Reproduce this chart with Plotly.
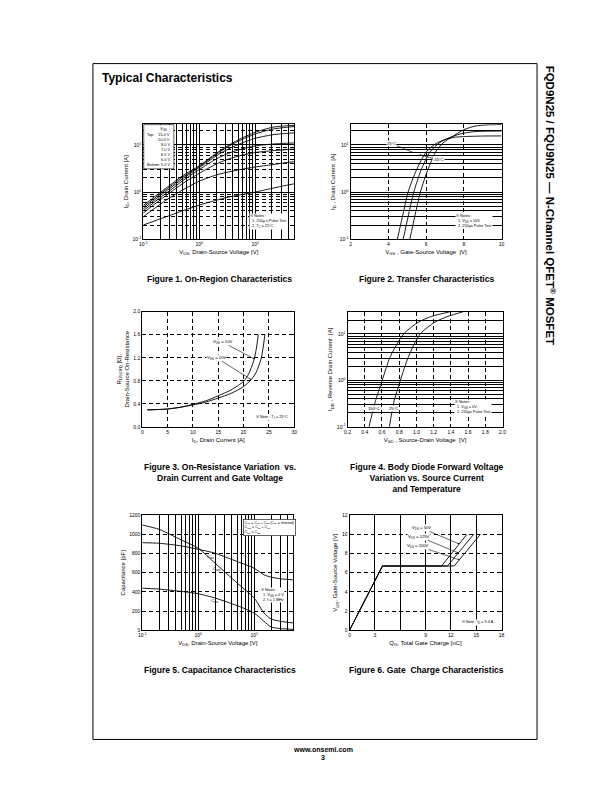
import plotly.graph_objects as go

W, H = 612, 792
FONT = "Liberation Sans, Arial, Helvetica, sans-serif"

# ---------------- Figure 1 : On-Region Characteristics ----------------
f1_vds = [0.1, 0.2, 0.3, 0.5, 1, 2, 3, 5, 10, 20, 30, 50]
f1_id_15v = [0.52, 0.98, 1.4, 2.2, 3.6, 6.6, 9.0, 12.8, 18.5, 23.5, 25, 26]
f1_id_10v = [0.48, 0.91, 1.3, 2.05, 3.45, 6.3, 8.6, 12.0, 17.0, 21.5, 23, 24.5]
f1_id_8v = [0.44, 0.84, 1.2, 1.9, 3.3, 5.8, 7.7, 10.2, 13.8, 16.3, 17.2, 18]
f1_id_7v = [0.40, 0.76, 1.08, 1.72, 3.0, 5.0, 6.3, 7.8, 9.5, 10.4, 10.7, 11]
f1_id_65v = [0.36, 0.68, 0.97, 1.5, 2.5, 3.9, 4.8, 5.8, 6.9, 7.5, 7.8, 8.2]
f1_id_6v = [0.30, 0.55, 0.76, 1.1, 1.7, 2.3, 2.6, 2.95, 3.4, 3.8, 4.1, 4.4]
f1_id_55v = [0.20, 0.27, 0.32, 0.40, 0.53, 0.67, 0.76, 0.86, 1.0, 1.2, 1.33, 1.5]
f1_legend_values = ["15.0 V", "10.0 V", "8.0 V", "7.0 V", "6.5 V", "6.0 V", "5.5 V"]
f1_legend_tags = ["Top :", "", "", "", "", "", "Bottom :"]

# ---------------- Figure 2 : Transfer Characteristics ----------------
f2_vgs_150 = [4.48, 4.75, 5.05, 5.5, 6.0, 6.5, 7.0, 7.5, 8.0, 9.0, 10.0]
f2_id_150 = [0.1, 0.3, 1.0, 3.0, 7.0, 10.5, 13.0, 14.5, 15.0, 15.4, 15.5]
f2_vgs_25 = [4.79, 5.05, 5.35, 5.75, 6.2, 6.7, 7.2, 7.8, 8.5, 9.2, 10.0]
f2_id_25 = [0.1, 0.3, 1.0, 3.0, 7.0, 11.0, 14.0, 17.0, 19.0, 19.5, 19.7]
f2_vgs_m55 = [5.14, 5.4, 5.7, 6.1, 6.5, 6.9, 7.4, 8.0, 8.6, 9.2, 10.0]
f2_id_m55 = [0.1, 0.3, 1.0, 3.0, 7.0, 11.0, 15.0, 21.0, 25.0, 26.5, 27.0]

# ---------------- Figure 3 : On-Resistance ----------------
f3_id_10v = [1, 3, 5, 7.5, 10, 12.5, 15, 17.5, 20, 21, 22, 22.5, 22.9]
f3_r_10v = [0.30, 0.30, 0.31, 0.34, 0.39, 0.45, 0.54, 0.64, 0.79, 0.92, 1.15, 1.35, 1.6]
f3_id_20v = [1, 3, 5, 7.5, 10, 12.5, 15, 17.5, 20, 21.5, 22.5, 23.5, 24.2]
f3_r_20v = [0.29, 0.30, 0.31, 0.34, 0.38, 0.43, 0.50, 0.58, 0.70, 0.82, 0.95, 1.2, 1.6]

# ---------------- Figure 4 : Body Diode ----------------
f4_vsd_150 = [0.449, 0.518, 0.602, 0.698, 0.851, 1.023, 1.177, 1.387]
f4_idr_150 = [0.1, 0.33, 1.0, 3.3, 10.0, 18.0, 24.0, 30.0]
f4_vsd_25 = [0.686, 0.736, 0.813, 0.909, 1.043, 1.215, 1.368, 1.54]
f4_idr_25 = [0.1, 0.33, 1.0, 3.3, 10.0, 18.0, 24.0, 30.0]

# ---------------- Figure 5 : Capacitance ----------------
f5_vds = [0.1, 0.2, 0.5, 1, 2, 5, 10, 15, 20, 30, 50]
f5_ciss = [913, 907, 879, 844, 803, 716, 647, 578, 554, 536, 526]
f5_coss = [1097, 1052, 941, 855, 699, 491, 336, 180, 118, 93, 76]
f5_crss = [439, 429, 405, 381, 336, 256, 180, 93, 35, 17, 10]

# ---------------- Figure 6 : Gate Charge ----------------
f6_qg_50v = [0, 3.9, 10.9, 13.9]
f6_qg_125v = [0, 3.9, 11.6, 14.7]
f6_qg_200v = [0, 3.9, 12.4, 15.5]
f6_vgs = [0, 6.7, 6.7, 10.0]
f6_xticks = [0, 3, 6, 9, 12, 15, 18]
f6_xtext = ["0", "3", "", "9", "12", "15", "18"]

# ---------------------------------------------------------------------
fig = go.Figure()


def px(x):
    return x / W


def py(y):
    return 1 - y / H


def curve(x, y, n, smooth=True):
    fig.add_trace(go.Scatter(
        x=x, y=y, mode="lines",
        line=dict(color="black", width=0.9,
                  shape="spline" if smooth else "linear", smoothing=0.7),
        xaxis="x" if n == 1 else f"x{n}", yaxis="y" if n == 1 else f"y{n}",
        showlegend=False, hoverinfo="skip"))


for ys in [f1_id_15v, f1_id_10v, f1_id_8v, f1_id_7v, f1_id_65v, f1_id_6v, f1_id_55v]:
    curve(f1_vds, ys, 1)
curve(f2_vgs_150, f2_id_150, 2)
curve(f2_vgs_25, f2_id_25, 2)
curve(f2_vgs_m55, f2_id_m55, 2)
curve(f3_id_10v, f3_r_10v, 3)
curve(f3_id_20v, f3_r_20v, 3)
curve(f4_vsd_150, f4_idr_150, 4)
curve(f4_vsd_25, f4_idr_25, 4)
curve(f5_vds, f5_ciss, 5)
curve(f5_vds, f5_coss, 5)
curve(f5_vds, f5_crss, 5)
curve(f6_qg_50v, f6_vgs, 6, smooth=False)
curve(f6_qg_125v, f6_vgs, 6, smooth=False)
curve(f6_qg_200v, f6_vgs, 6, smooth=False)

log_minor = [m * 10.0 ** e for e in range(-1, 2) for m in range(2, 10)]
log_ticks = [0.1, 1, 10]
log_text = ["10<sup>-1</sup>", "10<sup>0</sup>", "10<sup>1</sup>"]


def axis(dom, anchor, title, standoff=3, typ="linear", rng=None, dtick=None,
         tickvals=None, ticktext=None, griddash="solid", minor=None,
         minordash="solid", tickformat=None):
    d = dict(domain=dom, anchor=anchor, type=typ, range=rng,
             showline=True, linecolor="black", linewidth=1, mirror="ticks",
             ticks="inside", ticklen=3, tickwidth=0.8, tickcolor="black",
             showgrid=True, gridcolor="black", gridwidth=0.7, griddash=griddash,
             zeroline=False, fixedrange=True,
             tickfont=dict(family=FONT, size=5, color="black"),
             title=dict(text=title, font=dict(family=FONT, size=6, color="black"),
                        standoff=standoff))
    if dtick is not None:
        d["dtick"] = dtick
        d["tick0"] = rng[0]
    if tickvals is not None:
        d["tickmode"] = "array"
        d["tickvals"] = tickvals
        d["ticktext"] = ticktext
    if tickformat:
        d["tickformat"] = tickformat
    if minor is not None:
        d["minor"] = dict(tickmode="array", tickvals=minor, ticks="inside",
                          ticklen=2, tickcolor="black", showgrid=True,
                          gridcolor="black", gridwidth=0.5, griddash=minordash)
    return d


DASH = "4px,3px"
boxes = {
    1: (133, 286, 114, 230),
    2: (343, 496, 114, 230),
    3: (132, 286, 303, 419),
    4: (340, 497, 303, 419),
    5: (132, 285, 508, 624),
    6: (342, 496, 508, 624),
}


def xd(n):
    b = boxes[n]
    return [px(b[0]), px(b[1])]


def yd(n):
    b = boxes[n]
    return [py(b[3]), py(b[2])]


vds_title = "V<sub>DS</sub>, Drain-Source Voltage [V]"
layout = dict(
    xaxis=axis(xd(1), "y", vds_title, typ="log", rng=[-1, 1.699],
               tickvals=log_ticks, ticktext=log_text, minor=log_minor),
    yaxis=axis(yd(1), "x", "I<sub>D</sub>, Drain Current [A]", typ="log",
               rng=[-1, 1.44], tickvals=log_ticks, ticktext=log_text,
               minor=log_minor, minordash=DASH),
    xaxis2=axis(xd(2), "y2", "V<sub>GS</sub> , Gate-Source Voltage  [V]",
                rng=[2, 10], dtick=2, griddash=DASH),
    yaxis2=axis(yd(2), "x2", "I<sub>D</sub> , Drain Current  [A]", typ="log",
                rng=[-1, 1.44], tickvals=log_ticks, ticktext=log_text,
                minor=log_minor),
    xaxis3=axis(xd(3), "y3", "I<sub>D</sub>, Drain Current [A]", rng=[0, 30],
                dtick=5, griddash=DASH),
    yaxis3=axis(yd(3), "x3", "R<sub>DS(ON)</sub> [Ω],<br>Drain-Source On-Resistance",
                rng=[0, 2.0], dtick=0.4, griddash=DASH, tickformat=".1f"),
    xaxis4=axis(xd(4), "y4", "V<sub>SD</sub> , Source-Drain Voltage  [V]",
                rng=[0.2, 2.0], dtick=0.2, griddash=DASH, tickformat=".1f"),
    yaxis4=axis(yd(4), "x4", "I<sub>DR</sub> , Reverse Drain Current  [A]",
                typ="log", rng=[-1, 1.48], tickvals=log_ticks, ticktext=log_text,
                minor=log_minor),
    xaxis5=axis(xd(5), "y5", vds_title, typ="log", rng=[-1, 1.699],
                tickvals=log_ticks, ticktext=log_text, minor=log_minor),
    yaxis5=axis(yd(5), "x5", "Capacitance [pF]", rng=[0, 1200], dtick=200,
                griddash=DASH),
    xaxis6=axis(xd(6), "y6", "Q<sub>G</sub>, Total Gate Charge [nC]",
                rng=[0, 18], tickvals=f6_xticks, ticktext=f6_xtext),
    yaxis6=axis(yd(6), "x6", "V<sub>GS</sub>, Gate-Source Voltage [V]",
                rng=[0, 12], dtick=2, griddash=DASH),
)

ann = []
shapes = []


def text(x, y, t, size=4.2, bold=False, xanchor="center", yanchor="middle",
         align="center", bg=None, border=None, angle=0):
    a = dict(x=px(x), y=py(y), xref="paper", yref="paper", showarrow=False,
             text=f"<b>{t}</b>" if bold else t, xanchor=xanchor, yanchor=yanchor,
             align=align, textangle=angle, borderpad=0,
             font=dict(family=FONT, size=size, color="black"))
    if bg:
        a["bgcolor"] = bg
    if border:
        a["bordercolor"] = border
        a["borderwidth"] = 0.6
        a["borderpad"] = 1
    ann.append(a)


def arrow(n, x, y, axp, ayp, t, size=4.2):
    ann.append(dict(x=x, y=y, xref="x" if n == 1 else f"x{n}",
                    yref="y" if n == 1 else f"y{n}", text=t, showarrow=True,
                    ax=axp, ay=ayp, arrowhead=2, arrowsize=0.5, arrowwidth=0.6,
                    arrowcolor="black", bgcolor="white", borderpad=0,
                    font=dict(family=FONT, size=size, color="black")))


def rect(x0, y0, x1, y1, fill="white", line=0.6):
    shapes.append(dict(type="rect", xref="paper", yref="paper", x0=px(x0),
                       x1=px(x1), y0=py(y1), y1=py(y0), fillcolor=fill,
                       line=dict(color="black", width=line), layer="above"))


# page frame
shapes.append(dict(type="rect", xref="paper", yref="paper", x0=px(82), x1=px(532),
                   y0=py(734), y1=py(53), line=dict(color="black", width=1)))
text(90, 68, "Typical Characteristics", size=12, bold=True, xanchor="left")
text(546, 196, "FQD9N25 / FQU9N25 — N-Channel QFET<sup>®</sup> MOSFET", size=11.5,
     bold=True, angle=90)
text(315, 744, "www.onsemi.com", size=7, bold=True)
text(315, 752, "3", size=7, bold=True)

# Figure 1 legend box
rect(133.5, 114.5, 164, 159)
text(153, 118.5, "V<sub>GS</sub>", size=4.2)
for i, (tag, val) in enumerate(zip(f1_legend_tags, f1_legend_values)):
    yy = 124 + i * 5.1
    if tag:
        text(135.5, yy, tag, size=3.9, xanchor="left")
    text(161.5, yy, val, size=3.9, xanchor="right")
text(240, 212, "\u203b Notes :<br>  1. 250\u03bc s Pulse Test<br>  2. T<sub>C</sub> = 25\u00b0C",
     size=3.8, xanchor="left", align="left", bg="white")

# Figure 2 labels
arrow(2, 5.3, 1.8, -17, -7, "150\u00b0C")
arrow(2, 5.3, 0.84, -21, -9, "25\u00b0C")
arrow(2, 5.65, 0.79, 19, 5, "-55\u00b0C")
text(449, 212, "\u203b Notes :<br>  1. V<sub>DS</sub> = 50V<br>  2. 250\u03bcs Pulse Test",
     size=3.8, xanchor="left", align="left", bg="white")

# Figure 3 labels
arrow(3, 22.1, 1.18, -32, -17, "V<sub>GS</sub> = 10V")
arrow(3, 21.5, 0.82, -35, -22, "V<sub>GS</sub> = 20V")
text(246, 409.5, "\u203b Note : T<sub>J</sub> = 25\u00b0C", size=3.8, xanchor="left",
     bg="white")

# Figure 4 labels
text(367, 401, "150\u00b0C", size=4.2, bg="white")
text(387, 401, "25\u00b0C", size=4.2, bg="white")
text(448, 399, "\u203b Notes :<br>  1. V<sub>GS</sub> = 0V<br>  2. 250\u03bcs Pulse Test",
     size=3.8, xanchor="left", align="left", bg="white")

# Figure 5 labels
text(234, 520, "C<sub>iss</sub> = C<sub>gs</sub> + C<sub>gd</sub> (C<sub>ds</sub> = shorted)<br>"
     "C<sub>oss</sub> = C<sub>ds</sub> + C<sub>gd</sub><br>C<sub>rss</sub> = C<sub>gd</sub>",
     size=3.6, xanchor="left", align="left", bg="white", border="black")
text(201, 550, "C<sub>iss</sub>", size=4.2)
text(208, 562, "C<sub>oss</sub>", size=4.2)
text(205, 595, "C<sub>rss</sub>", size=4.2)
text(251, 588, "\u203b Notes :<br>  1. V<sub>GS</sub> = 0 V<br>  2. f = 1 MHz",
     size=3.8, xanchor="left", align="left", bg="white")

# Figure 6 labels
arrow(6, 12.99, 9.0, -38, -16, "V<sub>DS</sub> = 50V")
arrow(6, 12.89, 8.07, -39, -16, "V<sub>DS</sub> = 125V")
arrow(6, 13.0, 7.34, -41, -14, "V<sub>DS</sub> = 200V")
text(455, 616, "\u203b Note : I<sub>D</sub> = 9.4 A", size=3.8, xanchor="left",
     bg="white")

# captions
text(210.5, 270, "Figure 1. On-Region Characteristics", size=8.5, bold=True)
text(420, 270, "Figure 2. Transfer Characteristics", size=8.5, bold=True)
text(210.5, 465, "Figure 3. On-Resistance Variation  vs.<br>Drain Current and Gate Voltage",
     size=8.5, bold=True)
text(420, 471, "Figure 4. Body Diode Forward Voltage<br>Variation vs. Source Current<br>and Temperature",
     size=8.5, bold=True)
text(210.5, 664, "Figure 5. Capacitance Characteristics", size=8.5, bold=True)
text(420, 664, "Figure 6. Gate  Charge Characteristics", size=8.5, bold=True)

fig.update_layout(
    width=W, height=H, autosize=False,
    margin=dict(l=0, r=0, t=0, b=0),
    paper_bgcolor="white", plot_bgcolor="white",
    font=dict(family=FONT, color="black"),
    showlegend=False,
    annotations=ann, shapes=shapes,
    **layout,
)

fig.write_html("out.html")
